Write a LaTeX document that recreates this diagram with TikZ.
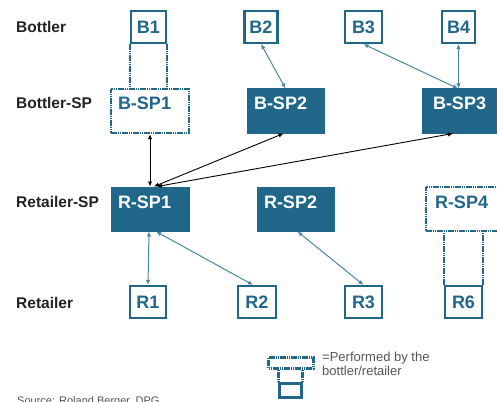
\documentclass[tikz,border=0pt]{standalone}
\usepackage{fontspec}
\setmainfont{Liberation Sans}
\usetikzlibrary{arrows.meta,calc}
\definecolor{tealbox}{HTML}{21678A}
\definecolor{tealline}{HTML}{4A86A0}
\definecolor{labelgray}{HTML}{222222}
\definecolor{notegray}{HTML}{555555}
\begin{document}
\begin{tikzpicture}[x=1pt,y=-1pt,
  boxfont/.style={font=\bfseries\fontsize{18}{18}\selectfont},
  % solid service-provider box, label at top left
  spfill/.style={boxfont, draw=tealbox, fill=tealbox, line width=1pt, text=white,
    inner xsep=7pt, inner ysep=8pt, text height=13pt, text depth=15pt, align=left, text width=#1},
  % dotted service-provider box (performed by bottler/retailer)
  spdot/.style={boxfont, draw=tealbox, fill=white, line width=2.4pt, dash pattern=on 1.6pt off 0.6pt, text=tealbox,
    inner xsep=7pt, inner ysep=8pt, text height=13pt, text depth=15pt, align=left, text width=#1},
  % outlined bottler / retailer box
  actor/.style={boxfont, draw=tealbox, fill=white, line width=2.2pt, text=tealbox,
    inner sep=0pt, minimum height=32pt, minimum width=#1},
  rowlabel/.style={font=\bfseries\fontsize{15.5}{15.5}\selectfont, text=labelgray, anchor=west, inner sep=0pt},
  dotlink/.style={draw=tealbox, line width=2.4pt, dash pattern=on 1.6pt off 0.6pt},
  tealarrow/.style={{Latex[length=5pt,width=4.5pt]}-{Latex[length=5pt,width=4.5pt]}, draw=tealline, line width=1pt},
  blackarrow/.style={{Latex[length=5pt,width=4.5pt]}-{Latex[length=5pt,width=4.5pt]}, draw=black, line width=0.9pt},
]
\useasboundingbox (0,0) rectangle (497,401);

% row labels
\node[rowlabel] (lb) at (16,27) {Bottler};
\node[rowlabel] (lbsp) at (16,103) {Bottler-SP};
\node[rowlabel] (lrsp) at (16,202) {Retailer-SP};
\node[rowlabel] (lr) at (16,303) {Retailer};

% bottlers
\node[actor=35pt] (B1) at (148.5,27) {B1};
\node[actor=33pt] (B2) at (261,27) {B2};
\node[actor=37pt] (B3) at (363.5,27) {B3};
\node[actor=33pt] (B4) at (458.5,27) {B4};

% bottler service providers
\node[spdot=64pt] (BSP1) at (150,111) {B-SP1};
\node[spfill=63pt] (BSP2) at (285.5,111) {B-SP2};
\node[spfill=62pt, inner xsep=11pt, text width=56pt] (BSP3) at (461,111) {B-SP3};

% retailer service providers
\node[spfill=64pt] (RSP1) at (150,209) {R-SP1};
\node[spfill=63pt] (RSP2) at (295.5,209) {R-SP2};
\node[spdot=62pt, inner xsep=9pt, text width=60pt] (RSP4) at (465,209) {R-SP4};

% retailers
\node[actor=36pt] (R1) at (148,302) {R1};
\node[actor=38pt] (R2) at (257,302) {R2};
\node[actor=37pt] (R3) at (363.5,302) {R3};
\node[actor=37pt] (R6) at (463.5,302) {R6};

% in-house links (dotted)
\draw[dotlink] (B1.south west) -- (B1.south west |- BSP1.north);
\draw[dotlink] (B1.south east) -- (B1.south east |- BSP1.north);
\draw[dotlink] (R6.north west) -- (R6.north west |- RSP4.south);
\draw[dotlink] (R6.north east) -- (R6.north east |- RSP4.south);

% bottler <-> bottler-SP
\draw[tealarrow] (B2.south) -- (BSP2.north);
\draw[tealarrow] (B3.south) -- ($(BSP3.north)+(-3,0)$);
\draw[tealarrow] (B4.south) -- (B4.south |- BSP3.north);

% bottler-SP <-> retailer-SP
\draw[blackarrow] (BSP1.south) -- (RSP1.north);
\draw[blackarrow] ($(BSP2.south)+(-2,0)$) -- ($(RSP1.north)+(4,0)$);
\draw[blackarrow] ($(BSP3.south)+(-8,0)$) -- ($(RSP1.north)+(7,0)$);

% retailer-SP <-> retailer
\draw[tealarrow] ($(RSP1.south)+(-1,0)$) -- (R1.north);
\draw[tealarrow] ($(RSP1.south)+(6,0)$) -- ($(R2.north)+(-4,0)$);
\draw[tealarrow] ($(RSP2.south)+(2,0)$) -- (R3.north);

% legend
\node[draw=tealbox, line width=2.4pt, dash pattern=on 1.6pt off 0.6pt, fill=white, inner sep=0pt,
  minimum width=45pt, minimum height=11pt] (legtop) at (291,363) {};
\node[draw=tealbox, line width=2.2pt, fill=white, inner sep=0pt,
  minimum width=22pt, minimum height=14pt] (legbot) at (290.5,390.5) {};
\draw[dotlink] (legbot.north west) -- (legbot.north west |- legtop.south);
\draw[dotlink] (legbot.north east) -- (legbot.north east |- legtop.south);
\node[anchor=north west, inner sep=0pt, align=left, text=notegray,
  font=\fontsize{13}{14}\selectfont] (legtxt) at (322,351.5) {=Performed by the\\bottler/retailer};

% source line
\node[anchor=base west, inner sep=0pt, text=notegray, font=\fontsize{11}{11}\selectfont] (src) at (17,404) {Source: Roland Berger, DPG};
\end{tikzpicture}
\end{document}
